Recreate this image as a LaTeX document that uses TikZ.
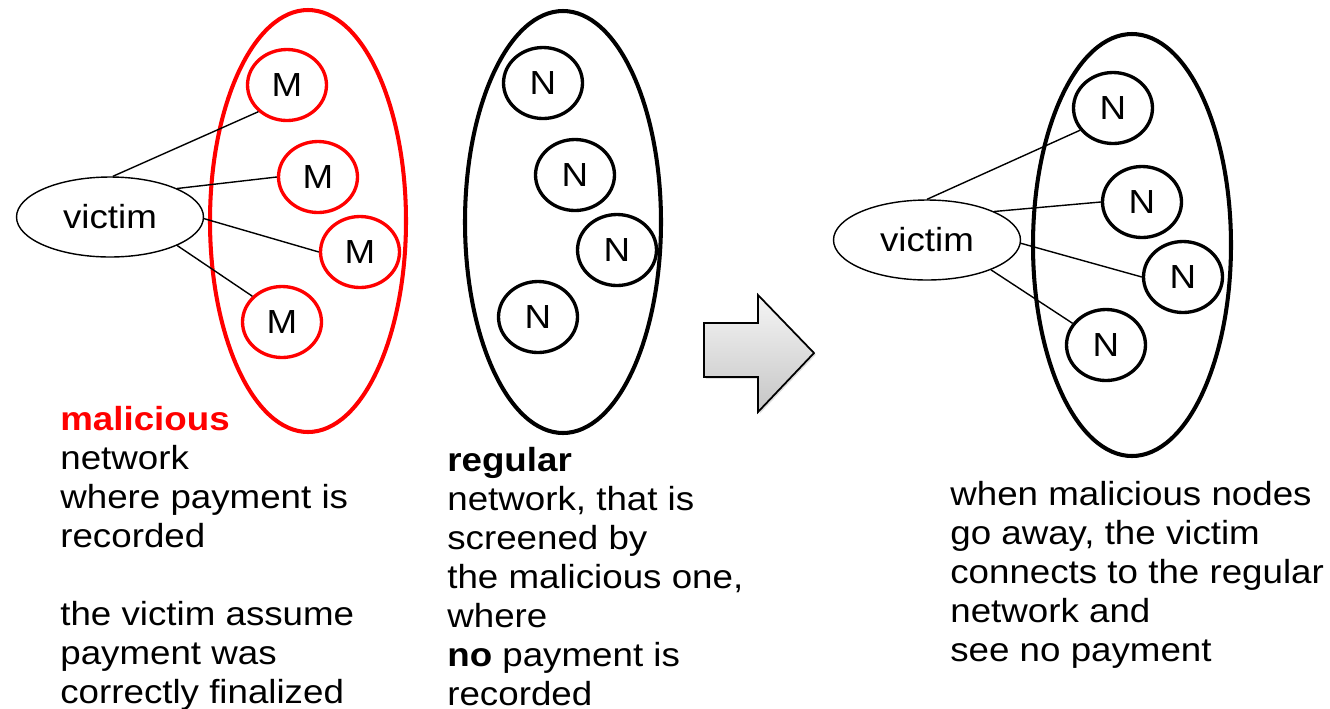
\documentclass[tikz,border=0pt]{standalone}
\usepackage{fontspec}
\setmainfont{Liberation Sans}[FakeStretch=1.1]
\usetikzlibrary{shapes.geometric,shadows}

\begin{document}
\begin{tikzpicture}[x=0.02cm,y=-0.02cm,
	every node/.style={font=\fontsize{19}{22.2}\selectfont},
	peer/.style={draw, ellipse, line width=1.9pt, inner sep=0pt, minimum width=1.58cm, minimum height=1.42cm},
	badpeer/.style={peer, draw=red},
	victimnode/.style={draw, ellipse, line width=0.8pt, inner sep=0pt, minimum width=3.74cm, minimum height=1.6cm},
	link/.style={line width=0.8pt},
	network/.style={line width=2.3pt},
	caption/.style={anchor=north west, inner sep=0pt, align=left}]
	\useasboundingbox (0,0) rectangle (1330,708);

	% the three networks
	\draw[network, red] (308,221) ellipse [x radius=98, y radius=211];
	\draw[network] (563,222) ellipse [x radius=98, y radius=211];
	\draw[network] (1132,245) ellipse [x radius=99, y radius=211];

	% before: victim only sees the malicious nodes
	\node[victimnode] (Victim) at (110,217) {victim};
	\node[badpeer] (M1) at (287,85) {M};
	\node[badpeer] (M2) at (318,177) {M};
	\node[badpeer] (M3) at (360,252) {M};
	\node[badpeer] (M4) at (282,322) {M};
	\draw[link] (Victim.86) -- (M1.223);
	\draw[link] (Victim.23) -- (M2.180);
	\draw[link] (Victim.-1) -- (M3.180);
	\draw[link] (Victim.-23) -- (M4.139);

	\node[peer] (N1) at (543,83) {N};
	\node[peer] (N2) at (575,175) {N};
	\node[peer] (N3) at (617,250) {N};
	\node[peer] (N4) at (538,317) {N};

	% transition arrow
	\draw[line width=1pt, top color=gray!8, bottom color=gray!45, drop shadow={opacity=0.25, shadow xshift=1pt, shadow yshift=-1pt}]
		(704,323) -- (758,323) -- (758,295) -- (814,353) -- (758,412) -- (758,377) -- (704,377) -- cycle;

	% after: victim reaches the regular network
	\node[victimnode] (NewVictim) at (927,240) {victim};
	\node[peer] (R1) at (1113,108) {N};
	\node[peer] (R2) at (1142,202) {N};
	\node[peer] (R3) at (1183,277) {N};
	\node[peer] (R4) at (1106,345) {N};
	\draw[link] (NewVictim.90) -- (R1.214);
	\draw[link] (NewVictim.23) -- (R2.180);
	\draw[link] (NewVictim.-2) -- (R3.180);
	\draw[link] (NewVictim.-25) -- (R4.147);

	% captions
	\node[caption] (MalText) at (60,406) {\textcolor{red}{\textbf{malicious}}\\network\\where payment is\\recorded\\[22.2pt]the victim assume\\payment was\\correctly finalized};
	\node[caption] (RegText) at (447,447) {\textbf{regular}\\network, that is\\screened by\\the malicious one,\\where\\\textbf{no} payment is\\recorded};
	\node[caption] (AfterText) at (950,481) {when malicious nodes\\go away, the victim\\connects to the regular\\network and\\see no payment};
\end{tikzpicture}
\end{document}
